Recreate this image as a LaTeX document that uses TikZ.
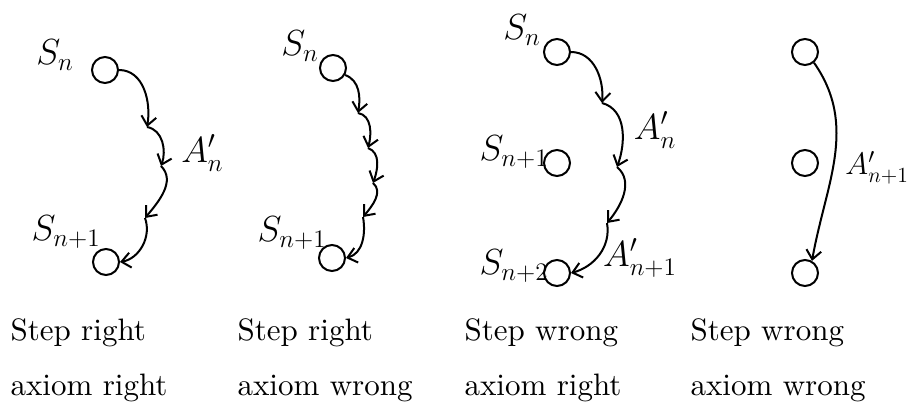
\documentclass[tikz,border=0pt]{standalone}
\usetikzlibrary{arrows.meta,positioning}
\tikzset{
  state/.style={circle,draw,line width=2pt,minimum size=26pt,inner sep=0pt},
  arrow/.style={-{Straight Barb[length=9pt,width=15pt]},line width=2pt},
  hand/.style={font=\fontsize{20}{24}\selectfont,scale=1.75,inner sep=0pt},
  handsmall/.style={font=\fontsize{20}{24}\selectfont,scale=1.5,inner sep=0pt},
  caption/.style={font=\normalsize,scale=3.1,anchor=base west,inner sep=0pt}
}

\begin{document}
\begin{tikzpicture}[x=1pt,y=1pt]
\useasboundingbox (0,0) rectangle (910,-407);

% step right, axiom right
\node[state] (a1) at (105,-70) {};
\node[state] (a2) at (106,-262) {};
\node[hand] (la1) at (55,-55) {$S_n$};
\node[hand] (la2) at (66,-232) {$S_{n+1}$};
\coordinate (a11) at (147,-127);
\coordinate (a12) at (161,-166);
\coordinate (a13) at (145,-218);
\draw[arrow] (a1.east) to[out=0,in=80] (a11);
\draw[arrow] (a11) to[out=-10,in=70] (a12);
\draw[arrow] (a12) to[out=-45,in=50] (a13);
\draw[arrow] (a13) to[out=-70,in=10] (a2.east);
\node[hand,anchor=west] (la3) at (181,-153) {$A'_n$};

% step right, axiom wrong
\node[state] (b1) at (333,-68) {};
\node[state] (b2) at (332,-258) {};
\node[hand] (lb1) at (300,-46) {$S_n$};
\node[hand] (lb2) at (292,-233) {$S_{n+1}$};
\coordinate (b11) at (358,-113);
\coordinate (b12) at (368,-148);
\coordinate (b13) at (373,-183);
\coordinate (b14) at (363,-217);
\draw[arrow] (b1.-30) to[out=-20,in=80] (b11);
\draw[arrow] (b11) to[out=-10,in=75] (b12);
\draw[arrow] (b12) to[out=-20,in=70] (b13);
\draw[arrow] (b13) to[out=-40,in=50] (b14);
\draw[arrow] (b14) to[out=-80,in=15] (b2.east);

% step wrong, axiom right
\node[state] (c1) at (557,-52) {};
\node[state] (c2) at (557,-163) {};
\node[state] (c3) at (557,-273) {};
\node[hand] (lc1) at (522,-30) {$S_n$};
\node[hand] (lc2) at (514,-152) {$S_{n+1}$};
\node[hand] (lc3) at (514,-266) {$S_{n+2}$};
\coordinate (c11) at (602,-103);
\coordinate (c12) at (617,-167);
\coordinate (c13) at (607,-223);
\draw[arrow] (c1.east) to[out=0,in=85] (c11);
\draw[arrow] (c11) to[out=-15,in=70] (c12);
\draw[arrow] (c12) to[out=-40,in=50] (c13);
\draw[arrow] (c13) to[out=-80,in=15] (c3.east);
\node[hand] (lc4) at (655,-130) {$A'_n$};
\node[hand] (lc5) at (640,-258) {$A'_{n+1}$};

% step wrong, axiom wrong
\node[state] (d1) at (805,-52) {};
\node[state] (d2) at (805,-163) {};
\node[state] (d3) at (805,-273) {};
\draw[arrow] (d1.-50) to[out=-55,in=80] (d3.60);
\node[handsmall,anchor=east] (ld1) at (909,-168) {$A'_{n+1}$};

% captions
\node[caption] (t1) at (10,-340) {Step right};
\node[caption] (t2) at (10,-395) {axiom right};
\node[caption] (t3) at (237,-340) {Step right};
\node[caption] (t4) at (237,-395) {axiom wrong};
\node[caption] (t5) at (464,-340) {Step wrong};
\node[caption] (t6) at (464,-395) {axiom right};
\node[caption] (t7) at (690,-340) {Step wrong};
\node[caption] (t8) at (690,-395) {axiom wrong};
\end{tikzpicture}
\end{document}
